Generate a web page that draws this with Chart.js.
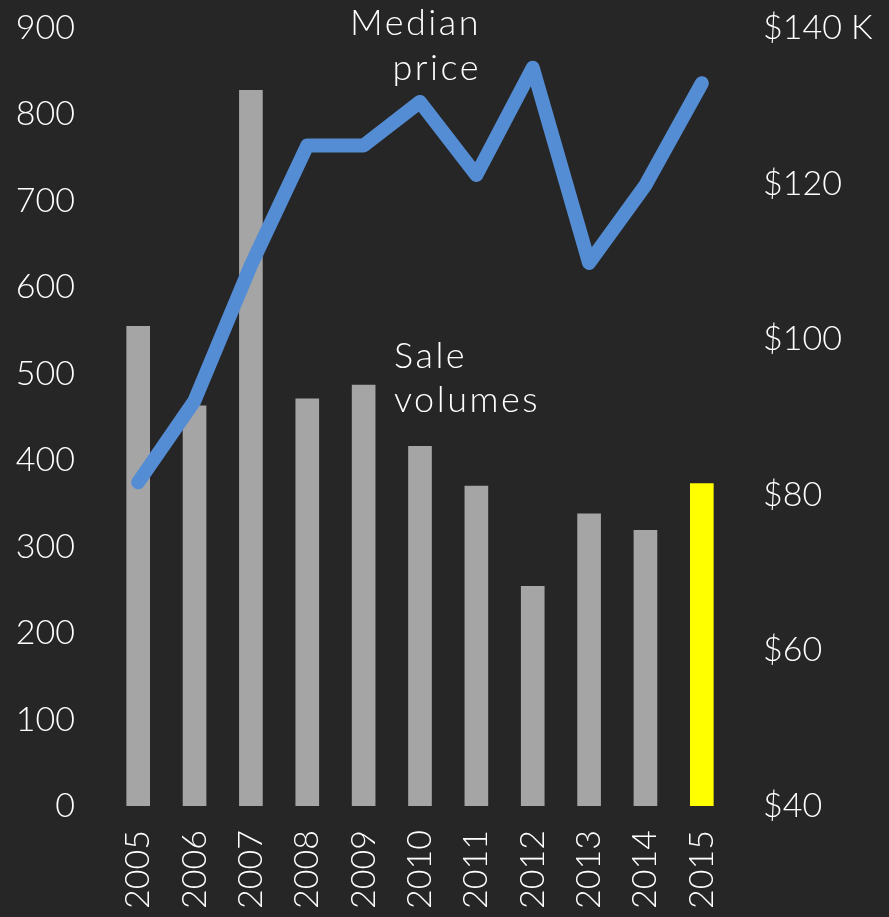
<!DOCTYPE html>
<html>
<head>
<meta charset="utf-8">
<script src="https://cdn.jsdelivr.net/npm/chart.js@4"></script>
<style>
  html, body { margin: 0; padding: 0; background: #262626; }
  #wrap { width: 889px; height: 917px; }
</style>
</head>
<body>
<div id="wrap"><canvas id="salesChart" width="889" height="917"></canvas></div>
<script>
const years = ['2005', '2006', '2007', '2008', '2009', '2010', '2011', '2012', '2013', '2014', '2015'];
const saleVolumes = [555, 463, 828, 471, 487, 416, 370, 254, 338, 319, 373];
const medianPrice = [81.6, 92.1, 109.5, 124.9, 124.9, 130.5, 121.1, 134.9, 109.8, 119.8, 132.9];
const barColors = ['#a5a5a5', '#a5a5a5', '#a5a5a5', '#a5a5a5', '#a5a5a5', '#a5a5a5',
                   '#a5a5a5', '#a5a5a5', '#a5a5a5', '#a5a5a5', '#ffff00'];

const FONT = 'Lato, "Noto Sans", sans-serif';

// text labels placed next to the series
const seriesLabels = {
    id: 'seriesLabels',
    afterDatasetsDraw(chart) {
        const c = chart.ctx;
        c.save();
        c.fillStyle = '#ffffff';
        c.font = '300 36px ' + FONT;
        c.letterSpacing = '2.5px';
        c.textBaseline = 'alphabetic';
        c.textAlign = 'right';
        c.fillText('Median', 481, 35);
        c.fillText('price', 481, 80);
        c.textAlign = 'left';
        c.fillText('Sale', 394, 368);
        c.fillText('volumes', 394, 412);
        c.restore();
    }
};

const tickFont = { family: FONT, size: 34, weight: 300 };

const ctx = document.getElementById('salesChart').getContext('2d');
const myChart = new Chart(ctx, {
    data: {
        labels: years,
        datasets: [{
            type: 'line',
            label: 'Median price',
            data: medianPrice,
            yAxisID: 'yPrice',
            borderColor: '#548dd4',
            borderWidth: 14,
            borderCapStyle: 'round',
            borderJoinStyle: 'round',
            pointRadius: 0,
            tension: 0,
            order: 0
        }, {
            type: 'bar',
            label: 'Sale volumes',
            data: saleVolumes,
            yAxisID: 'yVol',
            backgroundColor: barColors,
            barThickness: 23,
            order: 1
        }]
    },
    options: {
        responsive: false,
        animation: false,
        layout: { padding: 0 },
        plugins: {
            legend: { display: false },
            tooltip: { enabled: false }
        },
        scales: {
            x: {
                grid: { display: false, drawTicks: false },
                border: { display: false },
                ticks: {
                    color: '#ffffff',
                    font: tickFont,
                    minRotation: 90,
                    maxRotation: 90,
                    padding: 24,
                    autoSkip: false
                },
                afterFit(scale) {
                    scale.height = 111;
                    scale.paddingTop = 0;
                    scale.paddingLeft = 0;
                    scale.paddingRight = 0;
                }
            },
            yVol: {
                position: 'left',
                min: 0,
                max: 900,
                grid: { display: false, drawTicks: false },
                border: { display: false },
                ticks: {
                    stepSize: 100,
                    color: '#ffffff',
                    font: tickFont,
                    padding: 35
                },
                afterFit(scale) {
                    scale.width = 110;
                    scale.paddingTop = 28;
                    scale.paddingBottom = 0;
                }
            },
            yPrice: {
                position: 'right',
                min: 40,
                max: 140,
                grid: { display: false, drawTicks: false },
                border: { display: false },
                ticks: {
                    stepSize: 20,
                    color: '#ffffff',
                    font: tickFont,
                    padding: 33,
                    callback: (v) => v === 140 ? '$' + v + ' K' : '$' + v
                },
                afterFit(scale) {
                    scale.width = 159;
                    scale.paddingTop = 28;
                    scale.paddingBottom = 0;
                }
            }
        }
    },
    plugins: [seriesLabels]
});
</script>
</body>
</html>
